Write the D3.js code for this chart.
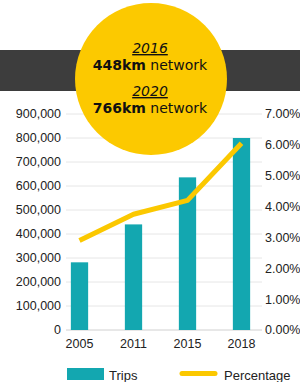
<!DOCTYPE html>
<html>
<head>
  <meta charset="utf-8">
  <script src="https://d3js.org/d3.v7.min.js"></script>
  <style>
    body { margin: 0; background: #fff; }
    svg { display: block; font-family: "Liberation Sans", Arial, sans-serif; }
  </style>
</head>
<body>
  <div id="chart"></div>
  <script>
    var years = ["2005", "2011", "2015", "2018"];
    var trips = [282000, 440000, 636000, 800000];
    var percentage = [2.9, 3.75, 4.2, 6.05];
    var leftTicks = [0, 100000, 200000, 300000, 400000, 500000, 600000, 700000, 800000, 900000];
    var rightTicks = [0, 1, 2, 3, 4, 5, 6, 7];
    var bubble = [
      { year: "2016", km: "448km", rest: " network" },
      { year: "2020", km: "766km", rest: " network" }
    ];

    var width = 300, height = 382;
    var svg = d3.select("#chart").append("svg")
      .attr("width", width)
      .attr("height", height);

    // dark header band
    svg.append("rect")
      .attr("x", 0).attr("y", 50)
      .attr("width", width).attr("height", 41)
      .attr("fill", "#3d3d3d");

    var x = d3.scaleBand()
      .domain(years)
      .range([52.5, 268.5])
      .paddingInner(0.68)
      .paddingOuter(0.34);

    var yLeft = d3.scaleLinear().domain([0, 900000]).range([330, 114]);
    var yRight = d3.scaleLinear().domain([0, 7]).range([330, 114]);

    var gridX0 = 66, gridX1 = 262;

    // grid lines
    svg.append("g").selectAll("line")
      .data(leftTicks)
      .join("line")
      .attr("x1", gridX0).attr("x2", gridX1)
      .attr("y1", d => yLeft(d)).attr("y2", d => yLeft(d))
      .attr("stroke", d => d === 0 ? "#d0d0d0" : "#e6e6e6")
      .attr("stroke-width", 1);

    // left axis labels
    svg.append("g").selectAll("text")
      .data(leftTicks)
      .join("text")
      .attr("x", 61)
      .attr("y", d => yLeft(d))
      .attr("dy", "0.35em")
      .attr("text-anchor", "end")
      .attr("font-size", 12.5)
      .attr("fill", "#222")
      .text(d => d3.format(",")(d));

    // right axis labels
    svg.append("g").selectAll("text")
      .data(rightTicks)
      .join("text")
      .attr("x", 265)
      .attr("y", d => yRight(d))
      .attr("dy", "0.35em")
      .attr("font-size", 12.5)
      .attr("fill", "#222")
      .text(d => d.toFixed(2) + "%");

    // bars
    svg.append("g").selectAll("rect")
      .data(trips)
      .join("rect")
      .attr("x", (d, i) => x(years[i]))
      .attr("width", x.bandwidth())
      .attr("y", d => yLeft(d))
      .attr("height", d => yLeft(0) - yLeft(d))
      .attr("fill", "#13a7b0");

    // x labels
    svg.append("g").selectAll("text")
      .data(years)
      .join("text")
      .attr("x", d => x(d) + x.bandwidth() / 2)
      .attr("y", 348)
      .attr("text-anchor", "middle")
      .attr("font-size", 12.5)
      .attr("fill", "#222")
      .text(d => d);

    // percentage line
    var line = d3.line()
      .x((d, i) => x(years[i]) + x.bandwidth() / 2)
      .y(d => yRight(d));

    svg.append("path")
      .datum(percentage)
      .attr("d", line)
      .attr("fill", "none")
      .attr("stroke", "#fbc800")
      .attr("stroke-width", 5)
      .attr("stroke-linejoin", "round");

    // yellow bubble
    svg.append("circle")
      .attr("cx", 151).attr("cy", 79).attr("r", 76)
      .attr("fill", "#fcc900");

    var bt = svg.append("g")
      .attr("font-family", "'DejaVu Sans', Verdana, sans-serif")
      .attr("text-anchor", "middle")
      .attr("fill", "#111");

    bubble.forEach(function (b, i) {
      var y0 = 53 + i * 43;
      bt.append("text")
        .attr("x", 150).attr("y", y0)
        .attr("font-size", 14)
        .attr("font-style", "italic")
        .attr("text-decoration", "underline")
        .text(b.year);
      var t = bt.append("text")
        .attr("x", 150).attr("y", y0 + 16.5)
        .attr("font-size", 14);
      t.append("tspan").attr("font-weight", "bold").text(b.km);
      t.append("tspan").text(b.rest);
    });

    // legend
    var lg = svg.append("g").attr("font-size", 13).attr("fill", "#222");
    lg.append("rect")
      .attr("x", 67).attr("y", 368).attr("width", 37).attr("height", 12)
      .attr("fill", "#13a7b0");
    lg.append("text").attr("x", 109).attr("y", 380).text("Trips");
    lg.append("line")
      .attr("x1", 182).attr("x2", 215).attr("y1", 373.5).attr("y2", 373.5)
      .attr("stroke", "#fbc800").attr("stroke-width", 5)
      .attr("stroke-linecap", "round");
    lg.append("text").attr("x", 224).attr("y", 380).text("Percentage");
  </script>
</body>
</html>
